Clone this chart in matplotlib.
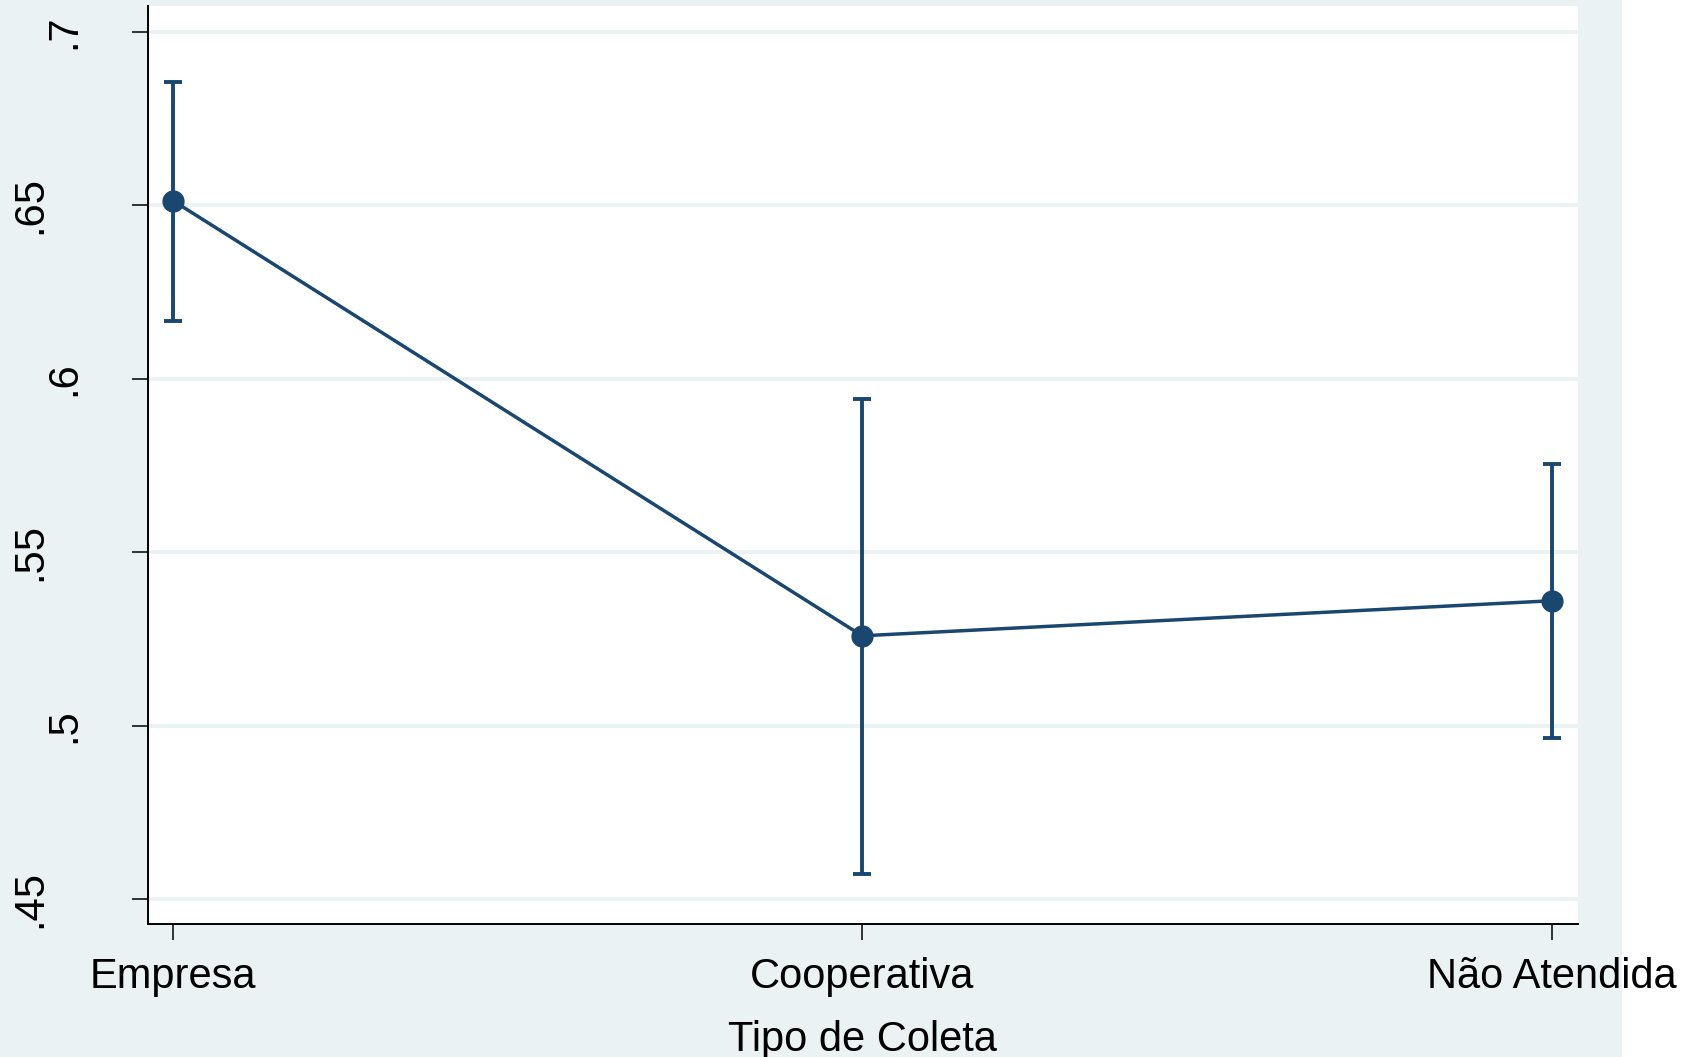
import matplotlib.pyplot as plt
import matplotlib.transforms as mtransforms
from matplotlib.patches import Rectangle
import numpy as np

plt.rcParams['font.family'] = ['Liberation Sans', 'DejaVu Sans']

# data
categories = ['Empresa', 'Cooperativa', 'Não Atendida']
means = [0.6514, 0.5259, 0.5360]
ci_low = [0.6168, 0.4572, 0.4963]
ci_high = [0.6857, 0.5943, 0.5754]
yticks = [0.45, 0.5, 0.55, 0.6, 0.65, 0.7]
ytick_labels = ['.45', '.5', '.55', '.6', '.65', '.7']

navy = '#1A476F'
bg = '#EAF2F3'

fig = plt.figure(figsize=(17, 10.57), dpi=100, facecolor='white')
# stata background, ends before the right edge of the picture
fig.patches.append(Rectangle((0, 0), 1622 / 1700, 1, transform=fig.transFigure,
                             facecolor=bg, edgecolor='none', zorder=-10))

ax = fig.add_axes([148 / 1700, 133 / 1057, (1577.7 - 148) / 1700, (1051 - 133) / 1057])
ax.set_facecolor('white')

x = np.arange(1, len(categories) + 1)
means = np.array(means)
yerr = np.array([means - np.array(ci_low), np.array(ci_high) - means])

ax.errorbar(x, means, yerr=yerr, fmt='none', ecolor=navy, elinewidth=2.8,
            capsize=6.6, capthick=2.8, zorder=3)
ax.plot(x, means, '-o', color=navy, lw=2.5, markersize=15, zorder=4)

ax.set_xlim(1 - 0.036, 3 + 0.038)
ax.set_ylim(0.4428, 0.7075)

ax.set_yticks(yticks)
ax.set_yticklabels(ytick_labels, rotation=90, va='center', ha='center')
ax.grid(which='major', axis='y', color=bg, lw=2.8)
ax.set_axisbelow(True)

ax.set_xticks(x)
ax.set_xticklabels(categories)
ax.set_xlabel('Tipo de Coleta', fontsize=30, labelpad=16.5)

ax.tick_params(axis='both', direction='out', length=11.5, width=1.1, labelsize=30)
ax.tick_params(axis='y', pad=48.5)
ax.tick_params(axis='x', pad=12)

for s in ['top', 'right']:
    ax.spines[s].set_visible(False)
for s in ['left', 'bottom']:
    ax.spines[s].set_linewidth(1.4)

# stata shifts the longer rotated labels further left
shift = mtransforms.ScaledTranslation(-24.8 / 72, 0, fig.dpi_scale_trans)
for lab in ax.get_yticklabels():
    if len(lab.get_text()) > 2:
        lab.set_transform(lab.get_transform() + shift)

fig.savefig('out.png', dpi=100)
